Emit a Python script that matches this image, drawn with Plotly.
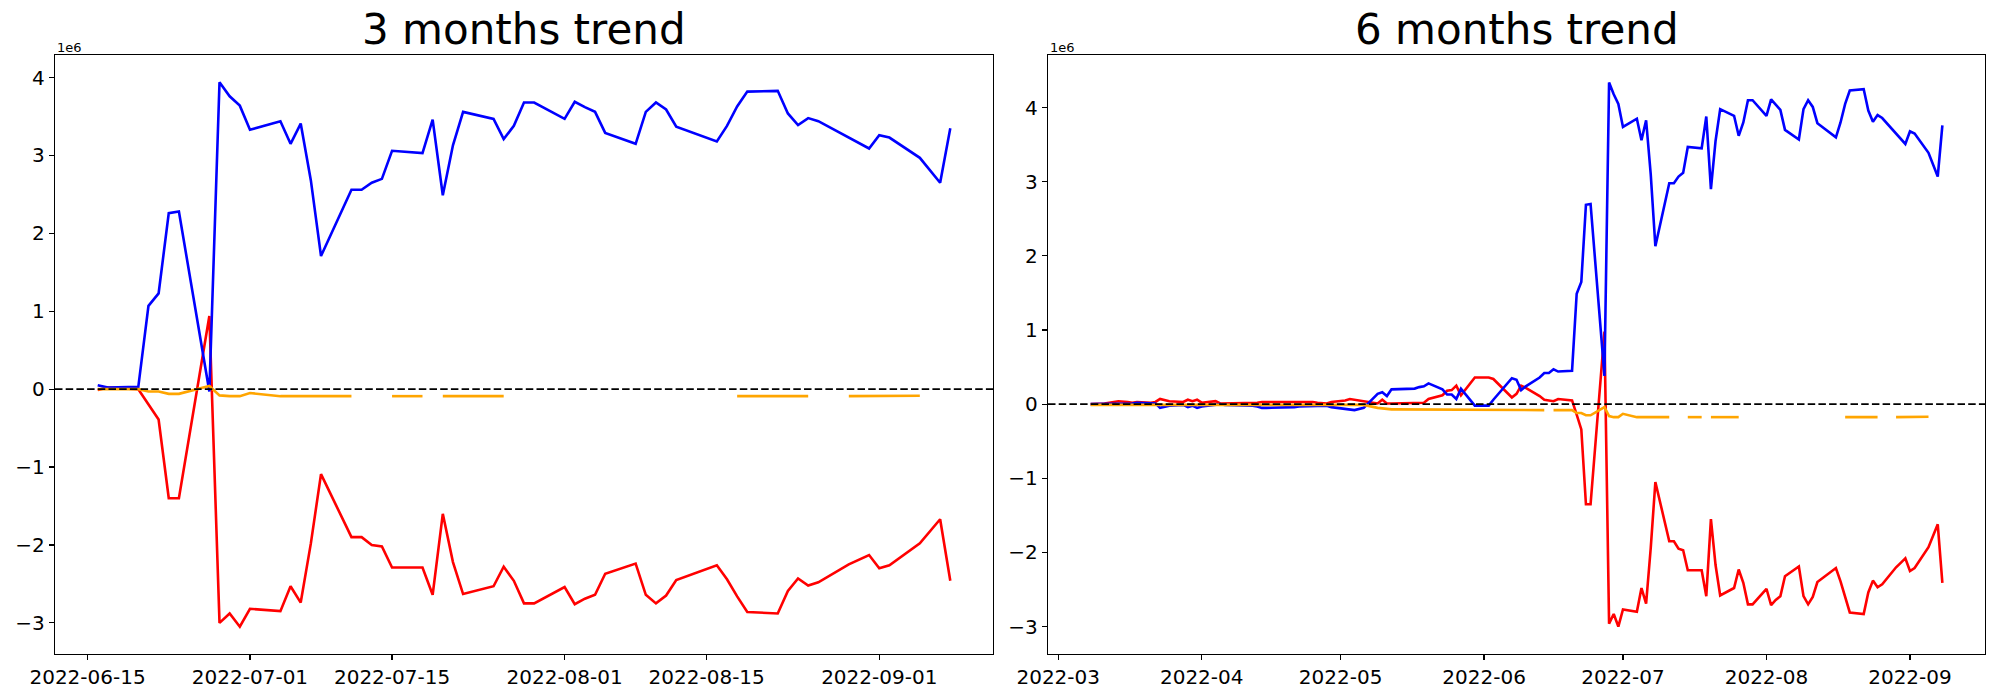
import plotly.graph_objects as go

# ---------------- data (values in units of 1e6) ----------------
# 3-month panel: business days 2022-06-16 .. 2022-09-08
dates_3m = [
    "2022-06-16", "2022-06-17", "2022-06-20", "2022-06-21", "2022-06-22", "2022-06-23", "2022-06-24",
    "2022-06-27", "2022-06-28", "2022-06-29", "2022-06-30",
    "2022-07-01", "2022-07-04", "2022-07-05", "2022-07-06", "2022-07-07", "2022-07-08",
    "2022-07-11", "2022-07-12", "2022-07-13", "2022-07-14", "2022-07-15",
    "2022-07-18", "2022-07-19", "2022-07-20", "2022-07-21", "2022-07-22",
    "2022-07-25", "2022-07-26", "2022-07-27", "2022-07-28", "2022-07-29",
    "2022-08-01", "2022-08-02", "2022-08-03", "2022-08-04", "2022-08-05",
    "2022-08-08", "2022-08-09", "2022-08-10", "2022-08-11", "2022-08-12",
    "2022-08-16", "2022-08-17", "2022-08-18", "2022-08-19",
    "2022-08-22", "2022-08-23", "2022-08-24", "2022-08-25", "2022-08-26",
    "2022-08-29", "2022-08-30", "2022-08-31", "2022-09-01", "2022-09-02",
    "2022-09-05", "2022-09-06", "2022-09-07", "2022-09-08",
]
blue_3m = [
    0.05, 0.02, 0.03, 1.07, 1.23, 2.26, 2.28,
    -0.03, 3.94, 3.76, 3.64,
    3.33, 3.44, 3.15, 3.41, 2.68, 1.71,
    2.56, 2.56, 2.65, 2.70, 3.06,
    3.03, 3.46, 2.49, 3.13, 3.56,
    3.47, 3.21, 3.38, 3.68, 3.68,
    3.47, 3.69, 3.62, 3.56, 3.29,
    3.15, 3.56, 3.68, 3.59, 3.37,
    3.18, 3.38, 3.63, 3.82,
    3.83, 3.54, 3.39, 3.48, 3.44,
    3.23, 3.16, 3.09, 3.26, 3.23,
    2.97, 2.81, 2.65, 3.35,
]
red_3m = [
    -0.01, 0.02, 0.00, -0.19, -0.39, -1.40, -1.40,
    0.94, -3.00, -2.88, -3.05,
    -2.82, -2.85, -2.53, -2.74, -1.98, -1.09,
    -1.90, -1.90, -2.00, -2.02, -2.29,
    -2.29, -2.64, -1.60, -2.22, -2.63,
    -2.53, -2.28, -2.46, -2.75, -2.75,
    -2.54, -2.76, -2.69, -2.64, -2.37,
    -2.24, -2.64, -2.75, -2.65, -2.45,
    -2.26, -2.44, -2.66, -2.86,
    -2.88, -2.59, -2.43, -2.52, -2.48,
    -2.25, -2.19, -2.13, -2.30, -2.26,
    -1.98, -1.83, -1.67, -2.46,
]
orange_3m = [
    0.00, 0.00, 0.00, -0.03, -0.03, -0.06, -0.06,
    0.04, -0.08, -0.09, -0.09,
    -0.05, -0.09, -0.09, -0.09, -0.09, -0.085,
    -0.09, None, None, None, -0.09,
    -0.09, None, -0.09, -0.09, -0.09,
    -0.09, -0.09, None, None, None,
    None, None, None, None, None,
    None, None, None, None, None,
    None, None, -0.09, -0.09,
    -0.09, -0.09, -0.09, -0.09, None,
    -0.09, -0.09, -0.09, -0.09, -0.09,
    -0.085, None, None, None,
]

# 6-month panel: business days 2022-03-08 .. 2022-09-08
dates_6m = [
    "2022-03-08", "2022-03-10", "2022-03-11", "2022-03-14", "2022-03-15", "2022-03-16", "2022-03-17",
    "2022-03-18", "2022-03-21", "2022-03-22", "2022-03-23", "2022-03-24", "2022-03-25",
    "2022-03-28", "2022-03-29", "2022-03-30", "2022-03-31",
    "2022-04-01", "2022-04-04", "2022-04-05", "2022-04-06", "2022-04-07", "2022-04-08",
    "2022-04-11", "2022-04-12", "2022-04-13", "2022-04-14", "2022-04-15",
    "2022-04-18", "2022-04-19", "2022-04-20", "2022-04-21", "2022-04-22",
    "2022-04-25", "2022-04-26", "2022-04-27", "2022-04-28", "2022-04-29",
    "2022-05-02", "2022-05-03", "2022-05-04", "2022-05-06",
    "2022-05-09", "2022-05-10", "2022-05-11", "2022-05-12", "2022-05-13",
    "2022-05-16", "2022-05-17", "2022-05-18", "2022-05-19", "2022-05-20",
    "2022-05-23", "2022-05-24", "2022-05-25", "2022-05-26", "2022-05-27",
    "2022-05-30", "2022-05-31", "2022-06-02", "2022-06-03",
    "2022-06-07", "2022-06-08", "2022-06-09", "2022-06-10",
    "2022-06-13", "2022-06-14", "2022-06-15",
] + dates_3m
blue_6m = [
    0.00, 0.00, 0.00, 0.01, 0.01, 0.01, 0.01,
    0.02, 0.02, 0.01, -0.05, -0.03, -0.02,
    -0.01, -0.04, -0.02, -0.05,
    -0.03, -0.01, 0.00, -0.01, -0.01, -0.02,
    -0.02, -0.02, -0.03, -0.05, -0.05,
    -0.05, -0.04, -0.04, -0.04, -0.03,
    -0.03, -0.03, -0.02, -0.02, -0.04,
    -0.06, -0.07, -0.08, -0.05,
    0.14, 0.16, 0.11, 0.20, 0.20,
    0.20, 0.21, 0.23, 0.24, 0.28,
    0.20, 0.13, 0.13, 0.07, 0.21,
    -0.02, -0.02, -0.02, 0.06,
    0.35, 0.33, 0.19, 0.24,
    0.36, 0.42, 0.42,
    0.47, 0.44, 0.45, 1.49, 1.65, 2.69, 2.70,
    0.38, 4.34, 4.18, 4.05,
    3.74, 3.85, 3.56, 3.83, 3.10, 2.13,
    2.98, 2.98, 3.07, 3.12, 3.47,
    3.45, 3.88, 2.90, 3.55, 3.98,
    3.89, 3.62, 3.80, 4.10, 4.10,
    3.89, 4.11, 4.04, 3.97, 3.70,
    3.57, 3.98, 4.10, 4.01, 3.79,
    3.60, 3.80, 4.05, 4.23,
    4.25, 3.96, 3.81, 3.90, 3.86,
    3.65, 3.58, 3.51, 3.68, 3.65,
    3.39, 3.23, 3.07, 3.76,
]
red_6m = [
    0.00, 0.00, 0.01, 0.04, 0.03, 0.03, 0.02,
    0.03, 0.02, 0.03, 0.07, 0.05, 0.04,
    0.03, 0.06, 0.04, 0.06,
    0.02, 0.04, 0.01, 0.01, 0.02, 0.01,
    0.01, 0.01, 0.02, 0.03, 0.03,
    0.04, 0.04, 0.03, 0.03, 0.03,
    0.03, 0.02, 0.01, 0.01, 0.03,
    0.05, 0.07, 0.06, 0.03,
    0.01, 0.06, 0.01, 0.01, 0.01,
    0.01, 0.02, 0.02, 0.02, 0.07,
    0.12, 0.18, 0.19, 0.25, 0.12,
    0.36, 0.36, 0.36, 0.34,
    0.09, 0.14, 0.25, 0.22,
    0.11, 0.06, 0.05,
    0.04, 0.07, 0.05, -0.14, -0.34, -1.35, -1.35,
    0.98, -2.96, -2.83, -3.00,
    -2.77, -2.80, -2.48, -2.69, -1.94, -1.05,
    -1.85, -1.85, -1.95, -1.97, -2.24,
    -2.24, -2.59, -1.55, -2.17, -2.58,
    -2.48, -2.23, -2.41, -2.70, -2.70,
    -2.49, -2.71, -2.64, -2.59, -2.32,
    -2.19, -2.59, -2.70, -2.60, -2.40,
    -2.21, -2.39, -2.61, -2.81,
    -2.83, -2.54, -2.38, -2.47, -2.43,
    -2.20, -2.14, -2.08, -2.25, -2.21,
    -1.93, -1.78, -1.62, -2.41,
]
orange_6m = [
    -0.01, -0.01, -0.01, -0.01, -0.01, -0.01, -0.01,
    -0.01, -0.01, -0.01, -0.01, -0.01, -0.01,
    -0.01, -0.01, -0.01, -0.01,
    -0.01, -0.01, -0.01, -0.01, -0.01, -0.01,
    -0.01, -0.01, -0.01, -0.01, -0.01,
    -0.01, -0.01, -0.01, -0.01, -0.01,
    -0.01, -0.01, -0.01, -0.01, -0.01,
    -0.01, -0.01, -0.01, -0.01,
    -0.05, -0.06, -0.07, -0.07, -0.07,
    -0.07, -0.07, -0.07, -0.07, -0.075,
    -0.075, -0.075, -0.075, -0.075, -0.08,
    -0.08, -0.08, -0.08, -0.08,
    -0.08, -0.08, -0.08, -0.08,
    -0.08, -0.08, None,
    -0.08, -0.08, -0.08, -0.12, -0.12, -0.15, -0.15,
    -0.04, -0.16, -0.175, -0.175,
    -0.13, -0.175, -0.175, -0.175, -0.175, -0.17,
    -0.175, None, None, None, -0.175,
    -0.175, None, -0.175, -0.175, -0.175,
    -0.175, -0.175, None, None, None,
    None, None, None, None, None,
    None, None, None, None, None,
    None, None, -0.175, -0.175,
    -0.175, -0.175, -0.175, -0.175, None,
    -0.175, -0.175, -0.175, -0.175, -0.175,
    -0.17, None, None, None,
]

titles = ["3 months trend", "6 months trend"]
xticks_3m = ["2022-06-15", "2022-07-01", "2022-07-15", "2022-08-01", "2022-08-15", "2022-09-01"]
xticks_6m = ["2022-03-01", "2022-04-01", "2022-05-01", "2022-06-01", "2022-07-01", "2022-08-01", "2022-09-01"]
yticks = [-3, -2, -1, 0, 1, 2, 3, 4]
offset_label = "1e6"

# ---------------- figure ----------------
W, H = 2000, 700
FONT = "DejaVu Sans"
LW = 2.6

fig = go.Figure()

def add_panel(dates, blue, red, orange, xa, ya):
    fig.add_trace(go.Scatter(x=dates, y=red, mode="lines", line=dict(color="red", width=LW),
                             xaxis=xa, yaxis=ya, showlegend=False))
    fig.add_trace(go.Scatter(x=dates, y=blue, mode="lines", line=dict(color="blue", width=LW),
                             xaxis=xa, yaxis=ya, showlegend=False))
    fig.add_trace(go.Scatter(x=dates, y=orange, mode="lines", line=dict(color="orange", width=LW),
                             xaxis=xa, yaxis=ya, showlegend=False, connectgaps=False))

add_panel(dates_3m, blue_3m, red_3m, orange_3m, "x", "y")
add_panel(dates_6m, blue_6m, red_6m, orange_6m, "x2", "y2")

# axes geometry (page pixels)
L1, R1 = 55, 993
L2, R2 = 1048, 1985
TOP, BOT = 55, 654

def px_x(p):
    return p / W

def px_y(p):
    return 1 - p / H

common_axis = dict(showgrid=False, zeroline=False, showline=True, mirror=True,
                   linecolor="black", linewidth=1.2, ticks="outside", ticklen=5,
                   tickwidth=1.2, tickcolor="black", automargin=False,
                   tickfont=dict(family=FONT, size=20, color="black"))

ydom = [px_y(BOT), px_y(TOP)]
fig.update_layout(
    width=W, height=H,
    margin=dict(l=0, r=0, t=0, b=0, pad=0, autoexpand=False),
    paper_bgcolor="white", plot_bgcolor="white",
    hovermode=False,
    xaxis=dict(domain=[px_x(L1), px_x(R1)], type="date",
               range=["2022-06-11 19:00", "2022-09-12 05:00"],
               tickvals=xticks_3m, tickformat="%Y-%m-%d", anchor="y", **common_axis),
    yaxis=dict(domain=ydom, range=[-3.40, 4.29], tickvals=yticks, anchor="x", **common_axis),
    xaxis2=dict(domain=[px_x(L2), px_x(R2)], type="date",
                range=["2022-02-26 19:00", "2022-09-17 05:00"],
                tickvals=xticks_6m, tickformat="%Y-%m", anchor="y2", **common_axis),
    yaxis2=dict(domain=ydom, range=[-3.37, 4.71], tickvals=yticks, anchor="x2", **common_axis),
)

# zero dashed lines
for xr, yr in (("x domain", "y"), ("x2 domain", "y2")):
    fig.add_shape(type="line", xref=xr, yref=yr, x0=0, x1=1, y0=0, y1=0,
                  line=dict(color="black", width=1.6, dash="7.5px,3.2px"), layer="above")

# titles and offset labels
for title, (l, r) in zip(titles, ((L1, R1), (L2, R2))):
    fig.add_annotation(text=title, xref="paper", yref="paper",
                       x=px_x((l + r) / 2), y=px_y(30), xanchor="center", yanchor="middle",
                       showarrow=False, font=dict(family=FONT, size=42, color="black"))
    fig.add_annotation(text=offset_label, xref="paper", yref="paper",
                       x=px_x(l), y=px_y(47), xanchor="left", yanchor="middle",
                       showarrow=False, font=dict(family=FONT, size=13, color="black"))

# remove the browser's default 8px body margin so the figure fills the window
fig.write_html("out.html",
               config={"displayModeBar": False, "staticPlot": True},
               post_script="document.body.style.margin='0';document.body.style.padding='0';")
